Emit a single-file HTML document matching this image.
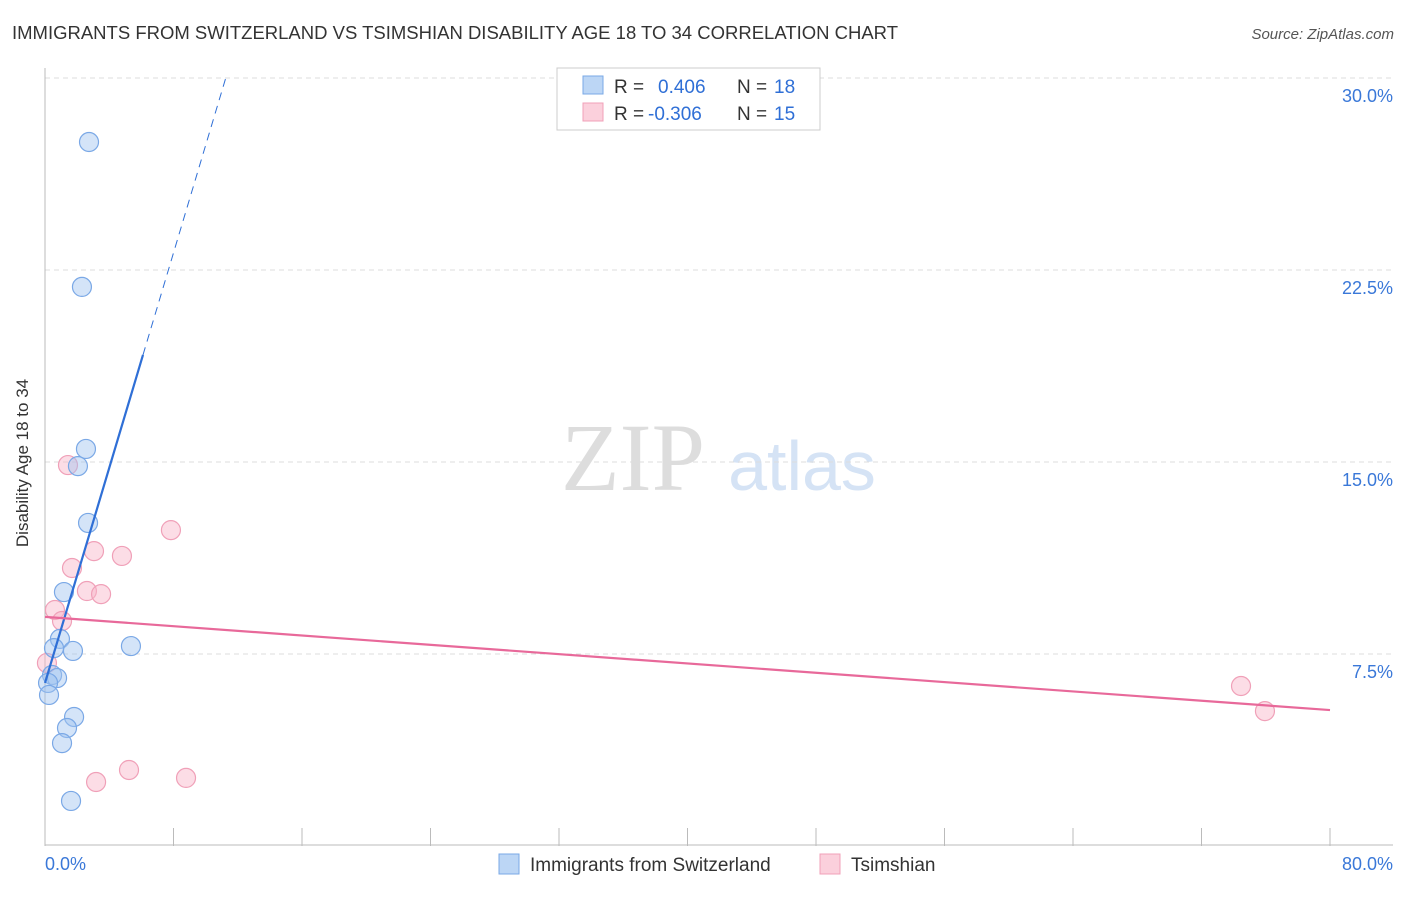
<!DOCTYPE html>
<html><head><meta charset="utf-8"><style>
body{margin:0;background:#fff;font-family:"Liberation Sans",sans-serif}
</style></head><body>
<svg id="c" width="1406" height="892" xmlns="http://www.w3.org/2000/svg" font-family="Liberation Sans, sans-serif">
<text x="12" y="39" font-size="18" fill="#333" textLength="886" lengthAdjust="spacingAndGlyphs">IMMIGRANTS FROM SWITZERLAND VS TSIMSHIAN DISABILITY AGE 18 TO 34 CORRELATION CHART</text>
<text x="1394" y="39" font-size="15" fill="#555" font-style="italic" text-anchor="end">Source: ZipAtlas.com</text>
<text x="20" y="455" font-size="17" fill="#333" text-anchor="middle" transform="rotate(-90 28 455)">Disability Age 18 to 34</text>
<text x="633" y="490" font-size="96" fill="#ddd" font-family="Liberation Serif, serif" text-anchor="middle">ZIP</text>
<text x="802" y="490" font-size="70" fill="#d5e3f5" text-anchor="middle">atlas</text>
<g id="grid"></g><g id="marks"></g>
<g>
<rect x="557" y="68" width="263" height="62" fill="#fff" stroke="#ccc"/>
<rect x="583" y="76" width="20" height="18" fill="#bcd6f5" stroke="#7aa8e6"/>
<rect x="583" y="103" width="20" height="18" fill="#fbd0dc" stroke="#f0a0b8"/>
<text y="93" font-size="19" fill="#333"><tspan x="614">R =</tspan><tspan x="658" fill="#2f6fd6">0.406</tspan><tspan x="737">N =</tspan><tspan x="774" fill="#2f6fd6">18</tspan></text>
<text y="120" font-size="19" fill="#333"><tspan x="614">R =</tspan><tspan x="648" fill="#2f6fd6">-0.306</tspan><tspan x="737">N =</tspan><tspan x="774" fill="#2f6fd6">15</tspan></text>
</g>
<g>
<rect x="499" y="854" width="20" height="20" fill="#bcd6f5" stroke="#7aa8e6"/>
<text x="530" y="871" font-size="19" fill="#333">Immigrants from Switzerland</text>
<rect x="820" y="854" width="20" height="20" fill="#fbd0dc" stroke="#f0a0b8"/>
<text x="851" y="871" font-size="19" fill="#333">Tsimshian</text>
</g>
</svg>
<script>
const blueX=[2.74,2.30,2.55,2.05,2.68,1.18,0.93,0.56,1.74,5.35,0.44,0.75,0.19,0.25,1.81,1.37,1.06,1.62];
const blueY=[27.5,21.84,15.51,14.84,12.62,9.92,8.09,7.73,7.62,7.81,6.68,6.56,6.37,5.90,5.04,4.61,4.02,1.76];
const pinkX=[1.43,7.84,3.05,4.79,1.68,2.61,3.49,0.62,1.06,0.12,3.18,5.23,8.78,74.46,75.95];
const pinkY=[14.88,12.34,11.52,11.33,10.86,9.96,9.84,9.22,8.79,7.15,2.5,2.97,2.66,6.25,5.27];
const yTicks=[7.5,15,22.5,30];
const yTickLabels=["7.5%","15.0%","22.5%","30.0%"];
const blueFit=[6.37,2.10];
const pinkFit=[8.95,5.31];
const NS="http://www.w3.org/2000/svg";
const X=v=>45+v*1285/80, Y=v=>846-v*25.6;
function mk(t,a,p){const e=document.createElementNS(NS,t);for(const k in a)e.setAttribute(k,a[k]);p.appendChild(e);return e;}
const g=document.getElementById('grid'), m=document.getElementById('marks');
yTicks.forEach((t,i)=>{
 const l=mk('line',{x1:45,x2:1393,y1:Y(t),y2:Y(t),stroke:'#ddd','stroke-dasharray':'5,4'},g);
 
 
 const tx=mk('text',{x:1393,y:Y(t)+24,'font-size':18,fill:'#3a78d8','text-anchor':'end'},g);
 tx.textContent=yTickLabels[i];
 
 
});
const ax=mk('line',{x1:45,x2:45,y1:68,y2:846,stroke:'#bbb'},g);


const bx=mk('line',{x1:45,x2:1393,y1:845,y2:845,stroke:'#bbb'},g);


for(let i=0;i<=10;i++){const t=mk('line',{x1:X(i*8),x2:X(i*8),y1:828,y2:846,stroke:'#bbb'},g);
 
 }
[[45,'start','0.0%'],[1393,'end','80.0%']].forEach(a=>{const t=mk('text',{x:a[0],y:870,'font-size':18,fill:'#3a78d8','text-anchor':a[1]},g);t.textContent=a[2];
 
 });
pinkX.forEach((x,i)=>{const c=mk('circle',{cx:X(x),cy:Y(pinkY[i]),r:9.5,fill:'rgba(248,180,200,0.45)',stroke:'#f0a0b8','stroke-width':1.2},m);
 
 });
blueX.forEach((x,i)=>{const c=mk('circle',{cx:X(x),cy:Y(blueY[i]),r:9.5,fill:'rgba(160,195,240,0.45)',stroke:'#7aa8e6','stroke-width':1.2},m);
 
 });
const xs=6.1, xe=(30-blueFit[0])/blueFit[1];
const b1=mk('line',{x1:X(0),y1:Y(blueFit[0]),x2:X(xs),y2:Y(blueFit[0]+blueFit[1]*xs),stroke:'#2f6fd6','stroke-width':2.2},m);


const b2=mk('line',{x1:X(xs),y1:Y(blueFit[0]+blueFit[1]*xs),x2:X(xe),y2:Y(30),stroke:'#2f6fd6','stroke-width':1,'stroke-dasharray':'8,6'},m);


const p1=mk('line',{x1:X(0),y1:Y(pinkFit[0]),x2:X(80),y2:Y(pinkFit[1]),stroke:'#e8699a','stroke-width':2.2},m);


</script>
</body></html>
